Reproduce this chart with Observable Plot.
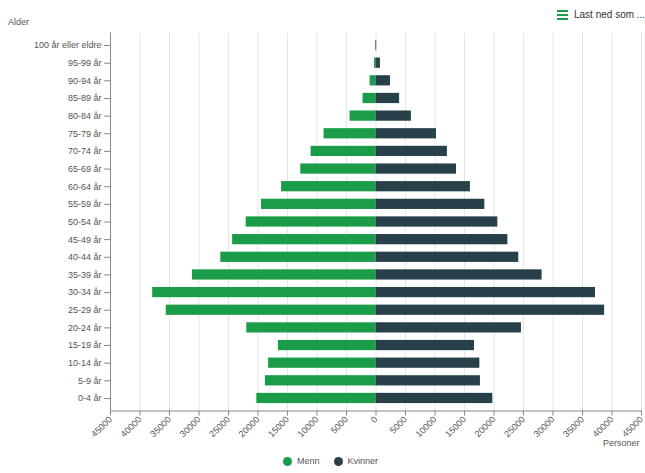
<!DOCTYPE html>
<html><head><meta charset="utf-8">
<script src="https://cdn.jsdelivr.net/npm/d3@7"></script>
<script src="https://cdn.jsdelivr.net/npm/@observablehq/plot@0.6"></script>
<style>
body{margin:0;background:#fff;font-family:"Liberation Sans",Arial,sans-serif;}
#wrap{position:relative;width:645px;height:473px;overflow:hidden;}
#chart{position:absolute;left:0;top:0;}
.lbl{position:absolute;font-size:9px;color:#555;white-space:nowrap;}
#dl{position:absolute;left:557px;top:9px;font-size:10px;color:#333;display:flex;align-items:center;gap:6px;white-space:nowrap;}
#legend{position:absolute;top:456px;left:283px;font-size:9px;color:#555;display:flex;gap:14px;white-space:nowrap;}
#legend span{display:flex;align-items:center;gap:5px;}
#legend i{display:inline-block;width:9px;height:9px;border-radius:50%;}
</style></head>
<body><div id="wrap"><div id="chart"></div></div>
<script>
const ages = ["100 år eller eldre","95-99 år","90-94 år","85-89 år","80-84 år","75-79 år","70-74 år","65-69 år","60-64 år","55-59 år","50-54 år","45-49 år","40-44 år","35-39 år","30-34 år","25-29 år","20-24 år","15-19 år","10-14 år","5-9 år","0-4 år"];
const menn    = [60,250,1000,2200,4400,8800,11000,12750,16000,19400,22000,24300,26300,31100,37850,35550,21900,16550,18200,18750,20200];
const kvinner = [120,750,2450,4000,6000,10250,12100,13650,16000,18450,20650,22350,24200,28150,37200,38750,24650,16700,17600,17700,19800];
const series = ["Menn","Kvinner"];
const colors = ["#1a9c48","#27404a"];
const xTicks = d3.range(-45000, 45001, 5000);

const data = [];
ages.forEach((a,i)=>{
  data.push({age:a, sex:"Menn", value:-menn[i]});
  data.push({age:a, sex:"Kvinner", value:kvinner[i]});
});

const plot = Plot.plot({
  width:645, height:452,
  marginLeft:110, marginRight:4, marginTop:32.5, marginBottom:41.5,
  style:{fontFamily:"Liberation Sans, Arial, sans-serif", fontSize:"9px", color:"#555", background:"#fff"},
  x:{domain:[-45000,45000], ticks:xTicks, tickFormat:d=>String(Math.abs(d)), tickRotate:-45, label:null, grid:false},
  y:{domain:ages, padding:0.42, round:false, label:null},
  color:{domain:series, range:colors},
  marks:[
    Plot.gridX(xTicks,{stroke:"#e6e6e6", strokeOpacity:1}),
    Plot.barX(data,{y:"age", x:"value", fill:"sex", insetTop:0, insetBottom:0}),
    Plot.ruleX([-45000],{stroke:"#888"}),
    Plot.frame({anchor:"bottom", stroke:"#888"}),
    Plot.axisY({tickSize:6, tickPadding:3, stroke:"#888", fill:"#555", label:null}),
    Plot.axisX({ticks:xTicks, tickFormat:d=>String(Math.abs(d)), tickRotate:-45, tickSize:5, tickPadding:2, stroke:"#888", fill:"#555", label:null})
  ]
});
document.getElementById("chart").appendChild(plot);

const wrap = document.getElementById("wrap");
function addLbl(text, left, top){const d=document.createElement("div");d.className="lbl";d.textContent=text;d.style.left=left+"px";d.style.top=top+"px";wrap.appendChild(d);}
addLbl("Alder", 8, 17);
addLbl("Personer", 603, 438);

const dl=document.createElement("div");dl.id="dl";
dl.innerHTML='<svg width="11" height="10"><rect x="0" y="0" width="11" height="2" fill="#1a9c48"/><rect x="0" y="4" width="11" height="2" fill="#1a9c48"/><rect x="0" y="8" width="11" height="2" fill="#1a9c48"/></svg><span>Last ned som ...</span>';
wrap.appendChild(dl);

const lg=document.createElement("div");lg.id="legend";
series.forEach((s,i)=>{const sp=document.createElement("span");sp.innerHTML='<i style="background:'+colors[i]+'"></i>'+s;lg.appendChild(sp);});
wrap.appendChild(lg);
</script></body></html>
